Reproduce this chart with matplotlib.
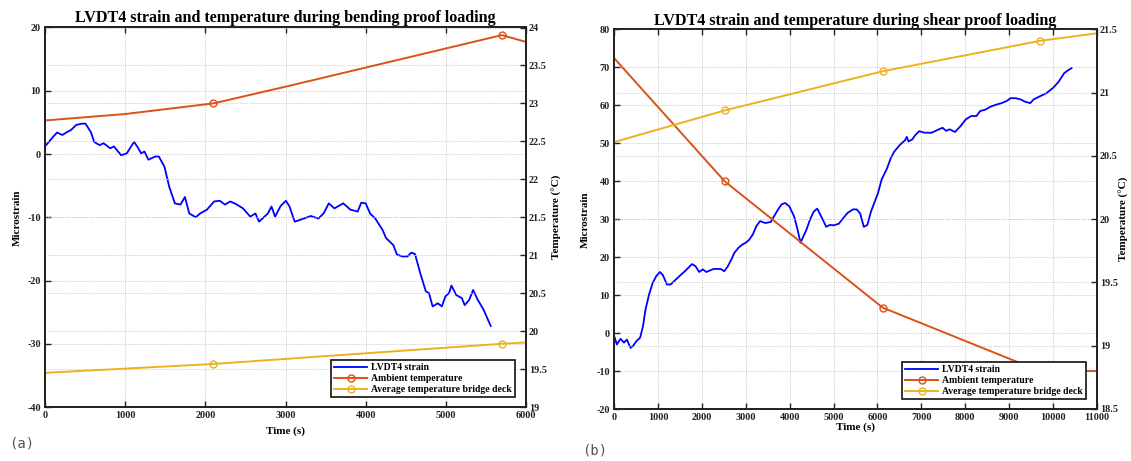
import matplotlib
matplotlib.use('Agg')
import matplotlib.pyplot as plt
from matplotlib.ticker import MultipleLocator

plt.rcParams['font.family'] = ['Liberation Serif', 'DejaVu Serif']
plt.rcParams['font.weight'] = 'bold'
plt.rcParams['axes.titleweight'] = 'bold'
plt.rcParams['axes.labelweight'] = 'bold'
plt.rcParams['axes.unicode_minus'] = False

# ---------------- data: bending proof loading (a) ----------------
bend_time = [0, 100, 150, 215, 280, 325, 390, 460, 505, 570, 615, 680, 730, 815, 860, 950,
             1020, 1110, 1150, 1200, 1240, 1290, 1375, 1420, 1490, 1550, 1620, 1690, 1745,
             1800, 1880, 1935, 2020, 2110, 2180, 2245, 2310, 2380, 2470, 2560, 2625, 2670,
             2780, 2825, 2870, 2940, 3005, 3050, 3115, 3230, 3315, 3410, 3475, 3540, 3610,
             3720, 3810, 3900, 3945, 4000, 4055, 4120, 4210, 4255, 4345, 4390, 4460, 4520,
             4570, 4615, 4680, 4750, 4790, 4835, 4900, 4950, 4995, 5040, 5070, 5130, 5200,
             5235, 5290, 5340, 5400, 5470, 5560]
bend_strain = [1.2, 2.7, 3.4, 3.0, 3.5, 3.8, 4.6, 4.8, 4.8, 3.5, 1.9, 1.4, 1.7, 0.9, 1.2, -0.2,
               0.1, 1.9, 1.2, 0.1, 0.4, -0.9, -0.4, -0.4, -2.0, -5.2, -7.8, -8.0, -6.8,
               -9.4, -10.0, -9.4, -8.8, -7.5, -7.4, -8.0, -7.5, -7.9, -8.6, -9.9, -9.4, -10.7,
               -9.4, -8.3, -9.9, -8.2, -7.4, -8.3, -10.7, -10.2, -9.8, -10.2, -9.4, -7.8, -8.6,
               -7.8, -8.8, -9.1, -7.7, -7.8, -9.4, -10.2, -12.0, -13.3, -14.4, -15.9, -16.2, -16.2,
               -15.6, -15.8, -18.8, -21.7, -22.0, -24.1, -23.6, -24.1, -22.5, -22.0, -20.8, -22.3, -22.8,
               -23.9, -23.1, -21.5, -23.1, -24.6, -27.2]
bend_amb_time = [0, 1000, 2100, 3000, 5700, 6000]
bend_amb_temp = [22.775, 22.86, 23.0, 23.22, 23.9, 23.81]
bend_amb_markers = [2, 4]
bend_deck_time = [0, 2100, 5700, 6000]
bend_deck_temp = [19.45, 19.567, 19.833, 19.85]
bend_deck_markers = [1, 2]

# ---------------- data: shear proof loading (b) ----------------
shear_time = [0, 65, 147, 228, 293, 375, 432, 513, 595, 660, 717, 799, 880, 962, 1043, 1108,
              1206, 1288, 1451, 1614, 1777, 1858, 1940, 2021, 2103, 2266, 2429, 2510, 2592,
              2673, 2738, 2836, 2917, 2999, 3080, 3162, 3243, 3325, 3447, 3570, 3733, 3814,
              3896, 3993, 4100, 4181, 4246, 4385, 4466, 4548, 4629, 4751, 4833, 4914, 4996,
              5118, 5200, 5322, 5444, 5526, 5607, 5689, 5770, 5852, 6015, 6096, 6218, 6300,
              6381, 6504, 6626, 6667, 6707, 6789, 6870, 6952, 7074, 7237, 7400, 7482, 7563,
              7645, 7767, 7889, 8011, 8134, 8256, 8337, 8460, 8582, 8704, 8826, 8949, 9030,
              9152, 9275, 9356, 9478, 9560, 9682, 9845, 10008, 10130, 10253, 10334, 10420]
shear_strain = [-0.6, -3.0, -1.5, -2.5, -1.7, -3.9, -3.4, -2.1, -1.2, 1.8, 6.2, 10.2, 13.2, 15.0,
                16.1, 15.4, 12.8, 12.8, 14.6, 16.3, 18.2, 17.6, 16.1, 16.8, 16.1, 16.9, 16.9,
                16.3, 17.6, 19.4, 21.1, 22.5, 23.3, 23.8, 24.6, 26.0, 28.2, 29.5, 29.0, 29.3,
                32.5, 33.9, 34.3, 33.4, 30.8, 27.3, 23.8, 27.3, 30.0, 32.0, 32.8, 30.0, 28.0,
                28.5, 28.4, 28.8, 30.0, 31.7, 32.6, 32.6, 31.5, 28.0, 28.5, 32.0, 37.0, 40.5,
                43.4, 46.0, 47.8, 49.5, 50.8, 51.7, 50.5, 51.0, 52.3, 53.2, 52.8, 52.8, 53.7,
                54.1, 53.3, 53.7, 53.0, 54.5, 56.3, 57.2, 57.2, 58.5, 58.9, 59.7, 60.2, 60.6,
                61.2, 61.9, 61.9, 61.5, 61.0, 60.6, 61.6, 62.3, 63.2, 64.7, 66.3, 68.5, 69.2,
                69.8]
shear_amb_time = [0, 2520, 6120, 9700, 11000]
shear_amb_temp = [21.275, 20.3, 19.301, 18.8, 18.8]
shear_amb_markers = [1, 2, 3]
shear_deck_time = [0, 2520, 6120, 9700, 11000]
shear_deck_temp = [20.61, 20.86, 21.17, 21.41, 21.47]
shear_deck_markers = [1, 2, 3]

titles = ['LVDT4 strain and temperature during bending proof loading',
          'LVDT4 strain and temperature during shear proof loading']
legend_labels = ['LVDT4 strain', 'Ambient temperature', 'Average temperature bridge deck']
panel_tags = ['(a)', '(b)']

BLUE = '#0000FF'
ORANGE = '#D95319'
YELLOW = '#EDB120'
GRID = '#c4c4c4'

W, H = 1131, 461
fig = plt.figure(figsize=(W / 100, H / 100), dpi=100)


def make_axes(l, r, t, b):
    return fig.add_axes([l / W, 1 - b / H, (r - l) / W, (b - t) / H])


def panel(ax, t, s, at, atemp, amk, dt, dtemp, dmk, xlim, xstep, ylim, ystep, y2lim,
          title, title_pad, xlab_y, ylab_x, y2lab_x):
    ax2 = ax.twinx()
    l1, = ax.plot(t, s, color=BLUE, lw=1.3, label=legend_labels[0])
    l2, = ax2.plot(at, atemp, color=ORANGE, lw=1.4, marker='o', markevery=amk, ms=5,
                   mfc='none', mec=ORANGE, mew=1.0, label=legend_labels[1])
    l3, = ax2.plot(dt, dtemp, color=YELLOW, lw=1.4, marker='o', markevery=dmk, ms=5,
                   mfc='none', mec=YELLOW, mew=1.0, label=legend_labels[2])
    ax.set_xlim(*xlim)
    ax.set_ylim(*ylim)
    ax2.set_ylim(*y2lim)
    ax.xaxis.set_major_locator(MultipleLocator(xstep))
    ax.yaxis.set_major_locator(MultipleLocator(ystep))
    ax2.yaxis.set_major_locator(MultipleLocator(0.5))
    ax2.yaxis.set_major_formatter(plt.FuncFormatter(lambda v, p: f'{v:g}'))
    gkw = dict(color=GRID, lw=0.7, ls=(0, (1, 1.5)))
    ax.grid(True, **gkw)
    ax2.grid(True, axis='y', **gkw)
    for a in (ax, ax2):
        for sp in a.spines.values():
            sp.set_linewidth(1.3)
            sp.set_color('#222222')
    ax.tick_params(direction='in', length=4, width=1, labelsize=7.3, pad=3, top=True,
                   colors='#222222', labelcolor='#222222')
    ax2.tick_params(direction='in', length=4, width=1, labelsize=7.3, pad=2,
                    colors='#222222', labelcolor='#222222')
    ax.set_title(title, fontsize=11.6, pad=title_pad)
    ax.set_xlabel('Time (s)', fontsize=8)
    ax.xaxis.set_label_coords(0.5, xlab_y)
    ax.set_ylabel('Microstrain', fontsize=8)
    ax.yaxis.set_label_coords(ylab_x, 0.5)
    ax2.set_ylabel('Temperature (°C)', fontsize=8)
    ax2.yaxis.set_label_coords(y2lab_x, 0.5)
    leg = ax2.legend(handles=[l1, l2, l3], loc='lower right', bbox_to_anchor=(0.977, 0.026),
                     fontsize=7, handlelength=3.4, fancybox=False, edgecolor='#111111',
                     framealpha=1, borderpad=0.3, labelspacing=0.2, handletextpad=0.4,
                     borderaxespad=0)
    leg.get_frame().set_linewidth(1.2)
    return ax2


axA = make_axes(45, 526, 27.5, 407)
panel(axA, bend_time, bend_strain, bend_amb_time, bend_amb_temp, bend_amb_markers,
      bend_deck_time, bend_deck_temp, bend_deck_markers,
      (0, 6000), 1000, (-40, 20), 10, (19, 24), titles[0], 4,
      -0.05, -0.048, 1.055)

axB = make_axes(614, 1097, 29.5, 409)
panel(axB, shear_time, shear_strain, shear_amb_time, shear_amb_temp, shear_amb_markers,
      shear_deck_time, shear_deck_temp, shear_deck_markers,
      (0, 11000), 1000, (-20, 80), 10, (18.5, 21.5), titles[1], 3,
      -0.035, -0.05, 1.045)

fig.text(22 / W, 1 - 443 / H, panel_tags[0], family='DejaVu Sans Mono', fontweight='normal',
         fontsize=10, color='#555555', ha='center', va='center')
fig.text(595 / W, 1 - 450 / H, panel_tags[1], family='DejaVu Sans Mono', fontweight='normal',
         fontsize=10, color='#555555', ha='center', va='center')

fig.savefig('out.png', dpi=100)
